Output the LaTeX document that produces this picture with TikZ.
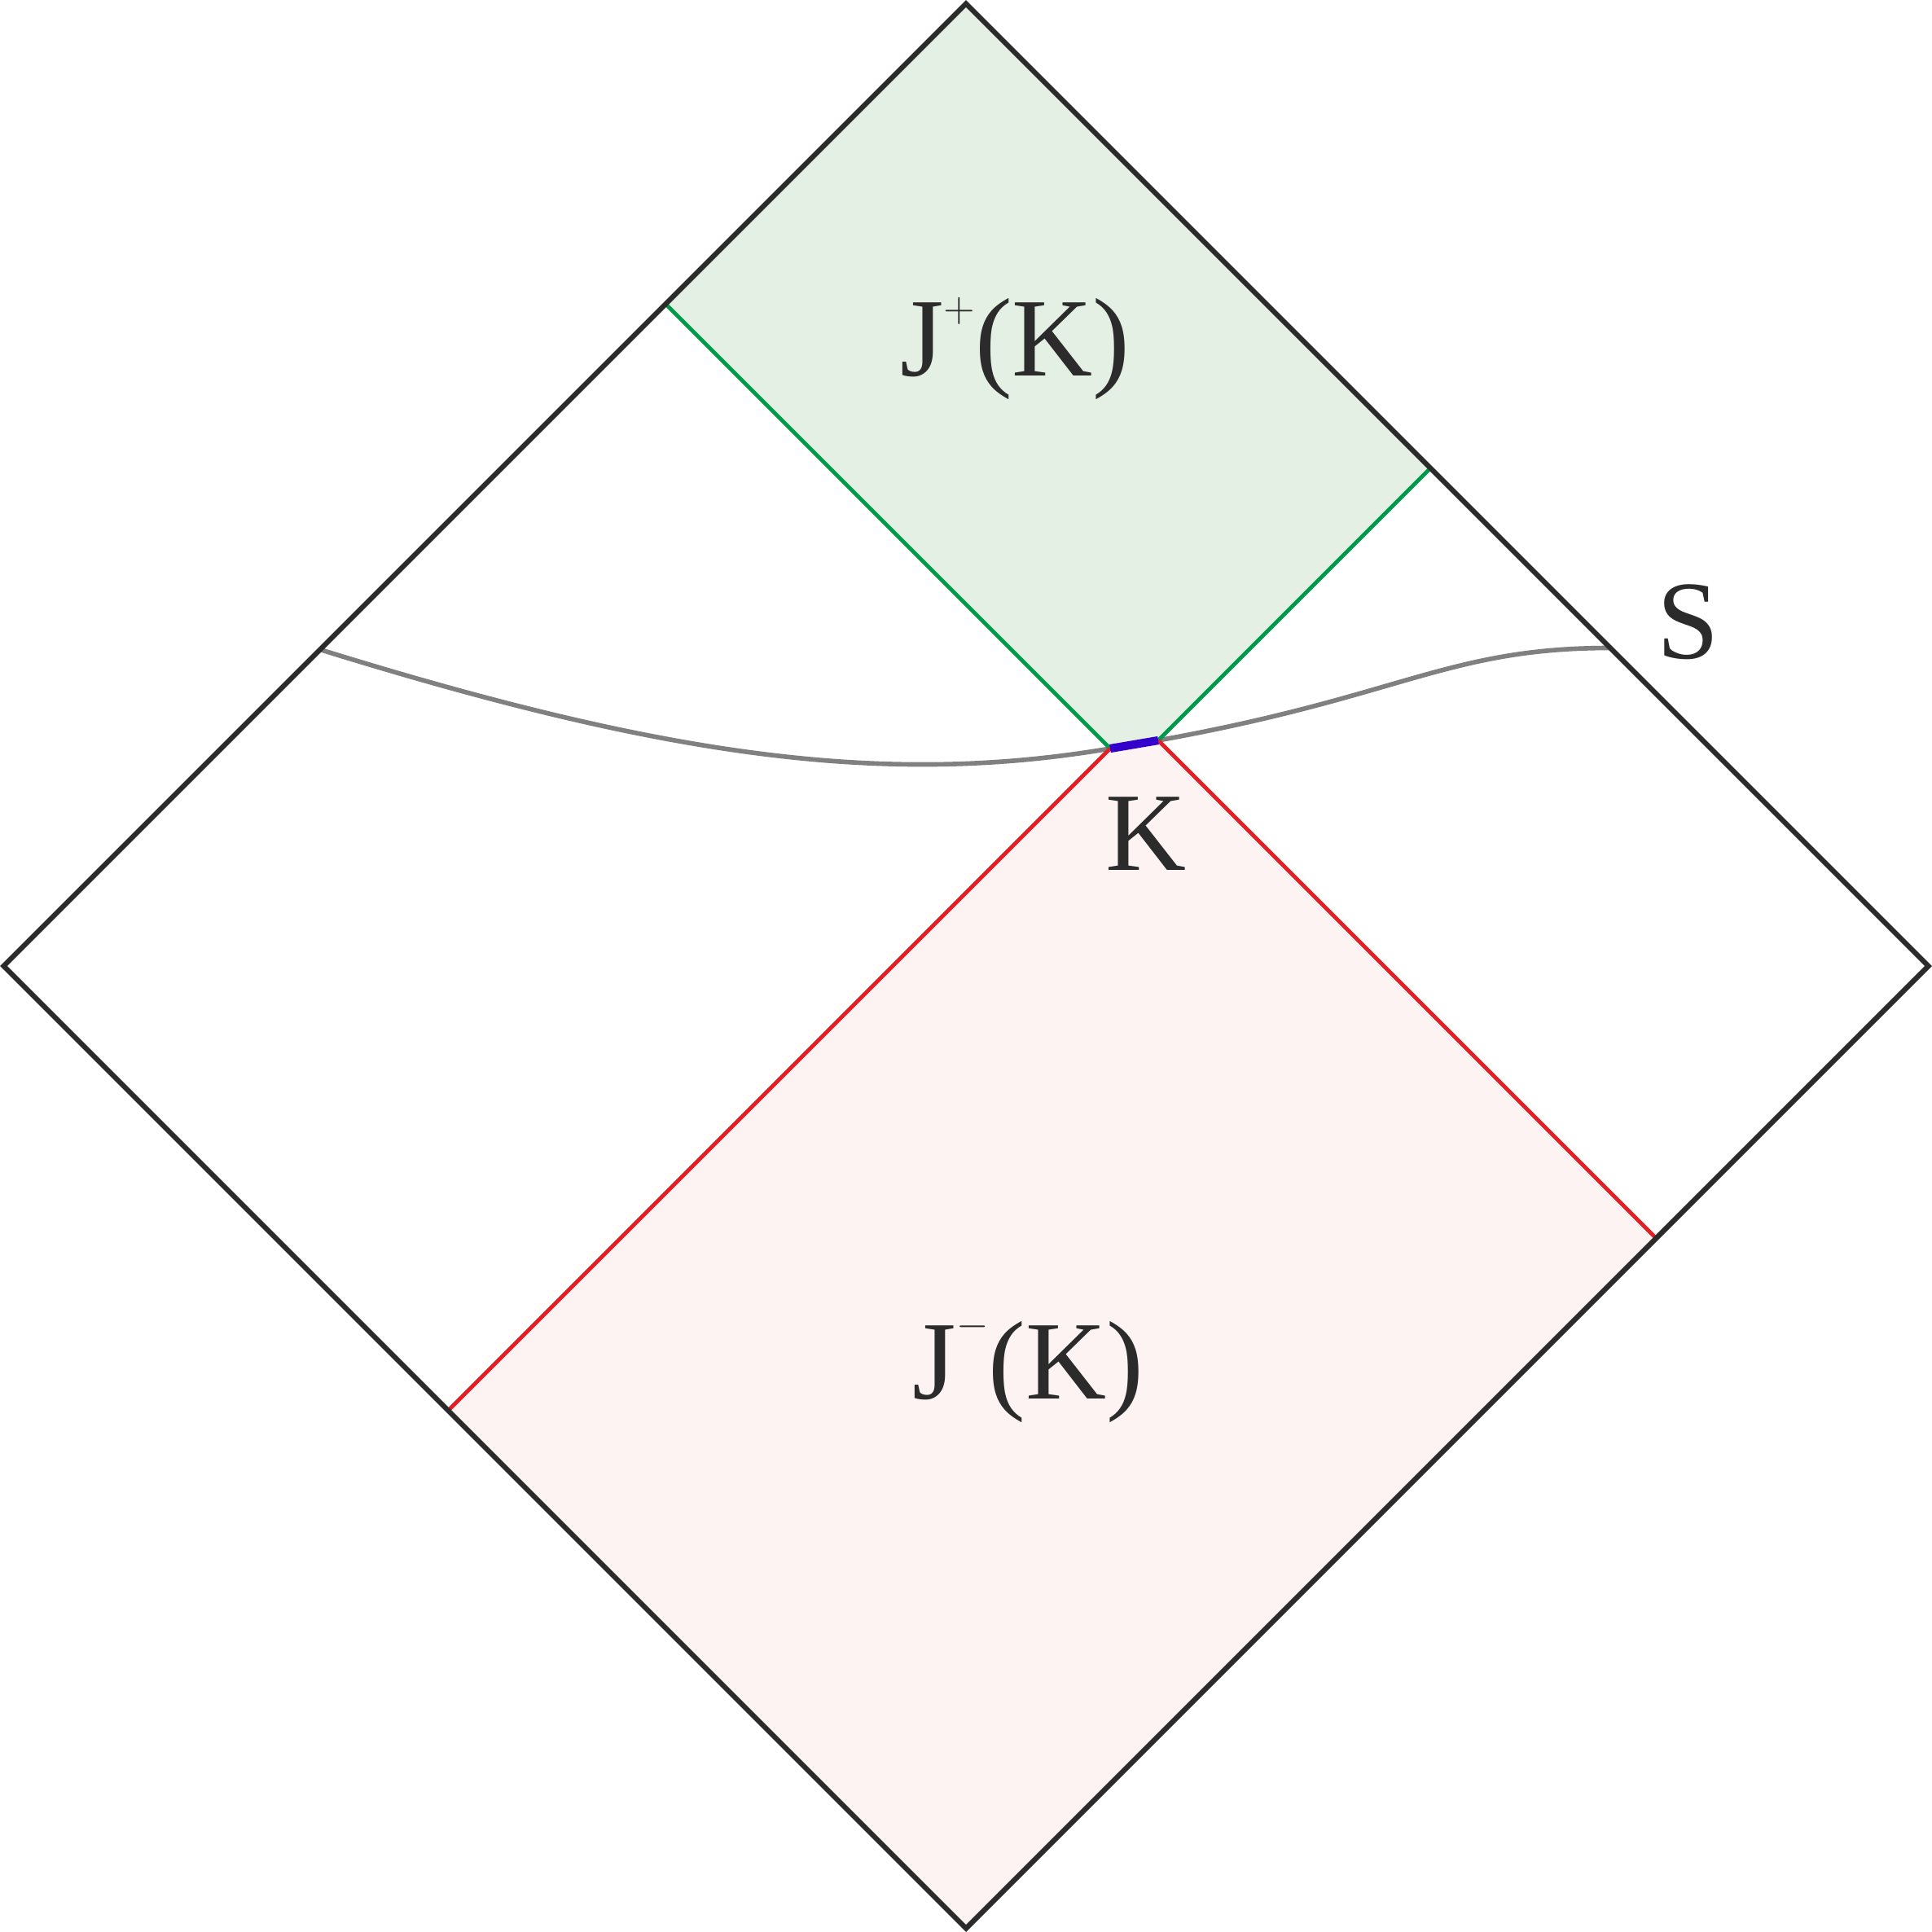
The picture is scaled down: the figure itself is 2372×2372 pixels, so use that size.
\documentclass[tikz,border=0pt]{standalone}
\usepackage{fontspec}
\setmainfont{Liberation Serif}
\definecolor{edgeblack}{HTML}{2B2B2B}
\definecolor{futgreen}{HTML}{009A4A}
\definecolor{futfill}{HTML}{E4F0E4}
\definecolor{pastred}{HTML}{E31E24}
\definecolor{pastfill}{HTML}{FDF3F3}
\definecolor{slicegray}{HTML}{808080}
\definecolor{kblue}{HTML}{3300CC}
\newcommand\jplusmark{\raisebox{19pt}{\fontsize{15}{15}\selectfont$+$}}
\newcommand\jminusmark{\raisebox{21.5pt}{\fontsize{15}{15}\selectfont$-$}}
\begin{document}
\begin{tikzpicture}[x=0.01cm,y=-0.01cm,
  frame/.style={draw=edgeblack,line width=1.8pt,line join=miter},
  greenline/.style={draw=futgreen,line width=1.35pt},
  redline/.style={draw=pastred,line width=1.35pt},
  slice/.style={draw=slicegray,line width=1.6pt},
  kseg/.style={draw=kblue,line width=2.9pt},
  lbl/.style={font=\fontsize{39}{45}\selectfont,text=edgeblack,inner sep=0pt,anchor=base}]
\useasboundingbox (0,0) rectangle (2372,2372);
\coordinate (T) at (1186,4.5);
\coordinate (L) at (4.5,1186);
\coordinate (R) at (2367.5,1186);
\coordinate (B) at (1186,2367.5);
\coordinate (P1) at (1363,919);
\coordinate (P2) at (1422,909);
\coordinate (GL) at (817.25,373.25);
\coordinate (GR) at (1756.25,574.75);
\coordinate (RL) at (550.25,1731.75);
\coordinate (RR) at (2033.25,1520.25);
\coordinate (SA) at (393,797.5);
\coordinate (SE) at (1977,795.5);
% regions
\fill[futfill] (T) -- (GL) -- (P1) -- (P2) -- (GR) -- cycle;
\fill[pastfill] (B) -- (RL) -- (P1) -- (P2) -- (RR) -- cycle;
% slice S
\draw[slice] (SA) .. controls (813,927.7) and (1083,966.6) .. (P1);
\draw[slice] (P2) .. controls (1722,855) and (1777,795.5) .. (SE);
% null boundaries
\draw[greenline] (GL) -- (P1);
\draw[greenline] (P2) -- (GR);
\draw[redline] (RL) -- (P1);
\draw[redline] (P2) -- (RR);
% K
\draw[kseg] (P1) -- (P2);
% diagram frame
\draw[frame] (T) -- (R) -- (B) -- (L) -- cycle;
% labels
\node[lbl] (jplus) at (1246.5,461) {J\jplusmark(K)};
\node[lbl] (jminus) at (1262.5,1717) {J\jminusmark(K)};
\node[lbl] (klabel) at (1407.5,1068) {K};
\node[lbl] (slabel) at (2072.5,808) {S};
\end{tikzpicture}
\end{document}
